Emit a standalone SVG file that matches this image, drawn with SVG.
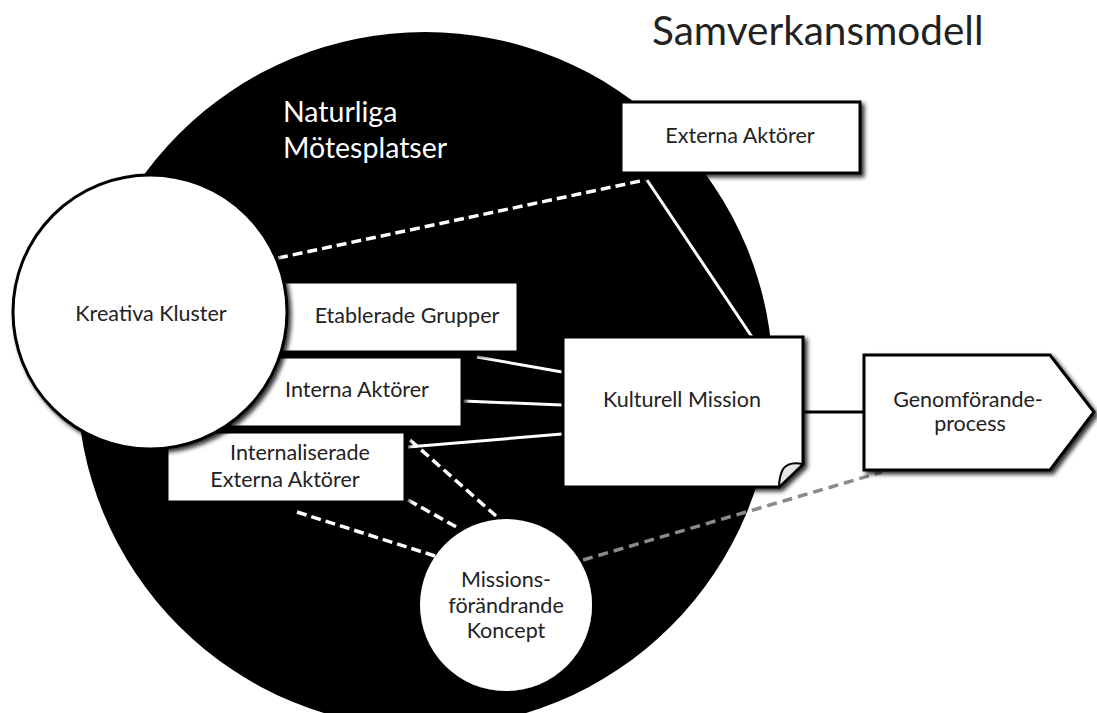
<svg xmlns="http://www.w3.org/2000/svg" width="1097" height="713" viewBox="0 0 1097 713">
  <defs>
    <filter id="shadow" x="-10%" y="-10%" width="130%" height="130%">
      <feDropShadow dx="3" dy="3" stdDeviation="2" flood-color="#000" flood-opacity="0.8"/>
    </filter>
  </defs>
  <style>
    .lbl { font-family: Lato, "Open Sans", sans-serif; font-size: 21.5px; fill: #222; text-anchor: middle; }
    .node { fill: #fff; stroke: #000; stroke-width: 3; filter: url(#shadow); }
    .solid { stroke: #fff; stroke-width: 3; fill: none; }
    .dash { stroke: #fff; stroke-width: 3.5; stroke-dasharray: 10 5; fill: none; }
    .grey { stroke: #8a8a8a; stroke-width: 3.5; stroke-dasharray: 10 6; fill: none; }
    .link { stroke: #000; stroke-width: 3; fill: none; }
  </style>

  <rect width="1097" height="713" fill="#fff"/>

  <!-- title -->
  <text x="652" y="45" font-family="Lato, 'Open Sans', sans-serif" font-size="40.5" fill="#222">Samverkansmodell</text>

  <!-- background area -->
  <g id="naturliga-motesplatser">
    <circle cx="425" cy="380" r="348" fill="#000"/>
    <text x="283" y="122" font-family="Lato, 'Open Sans', sans-serif" font-size="28.5" fill="#fff">Naturliga</text>
    <text x="283" y="158" font-family="Lato, 'Open Sans', sans-serif" font-size="28.5" fill="#fff">Mötesplatser</text>
  </g>

  <!-- connectors -->
  <g id="connectors">
    <line class="dash" x1="278" y1="258" x2="645" y2="180"/>
    <line class="solid" x1="647" y1="180" x2="752" y2="337"/>
    <line class="solid" x1="477" y1="357" x2="562" y2="372"/>
    <line class="solid" x1="463" y1="401" x2="562" y2="405"/>
    <line class="solid" x1="408" y1="447" x2="562" y2="434"/>
    <line class="dash" x1="410" y1="440" x2="496" y2="516"/>
    <line class="dash" x1="408" y1="500" x2="460" y2="529"/>
    <line class="dash" x1="297" y1="512" x2="435" y2="556"/>
    <line class="grey" x1="583" y1="560" x2="882" y2="472"/>
    <line class="link" x1="803" y1="412" x2="864" y2="412"/>
  </g>

  <g id="externa-aktorer">
    <rect class="node" x="621" y="102" width="239" height="71"/>
    <text class="lbl" x="740" y="143">Externa Aktörer</text>
  </g>

  <g id="etablerade-grupper">
    <rect class="node" x="250" y="282" width="268" height="70"/>
    <text class="lbl" x="407" y="323">Etablerade Grupper</text>
  </g>

  <g id="interna-aktorer">
    <rect class="node" x="230" y="357" width="232" height="70"/>
    <text class="lbl" x="357" y="397">Interna Aktörer</text>
  </g>

  <g id="internaliserade-externa-aktorer">
    <rect class="node" x="167" y="432" width="238" height="70"/>
    <text class="lbl" x="300" y="460">Internaliserade</text>
    <text class="lbl" x="285" y="487">Externa Aktörer</text>
  </g>

  <g id="kreativa-kluster">
    <circle class="node" cx="150" cy="312" r="137"/>
    <text class="lbl" x="151" y="321">Kreativa Kluster</text>
  </g>

  <g id="kulturell-mission">
    <path class="node" d="M563,337 H803 V464 L779,487 H563 Z"/>
    <path d="M803,464 Q789,461 783,469 Q779,477 779,487 Z" fill="#e6e6e6" stroke="#000" stroke-width="2"/>
    <text class="lbl" x="682" y="407">Kulturell Mission</text>
  </g>

  <g id="genomforandeprocess">
    <path class="node" d="M864,355 H1050 L1094,412 L1050,470 H864 Z"/>
    <text class="lbl" x="968" y="407">Genomförande-</text>
    <text class="lbl" x="970" y="431">process</text>
  </g>

  <g id="missionsforandrande-koncept">
    <circle cx="506" cy="605" r="86" fill="#fff" filter="url(#shadow)"/>
    <text class="lbl" x="506" y="587">Missions-</text>
    <text class="lbl" x="506" y="613">förändrande</text>
    <text class="lbl" x="506" y="638">Koncept</text>
  </g>
</svg>
